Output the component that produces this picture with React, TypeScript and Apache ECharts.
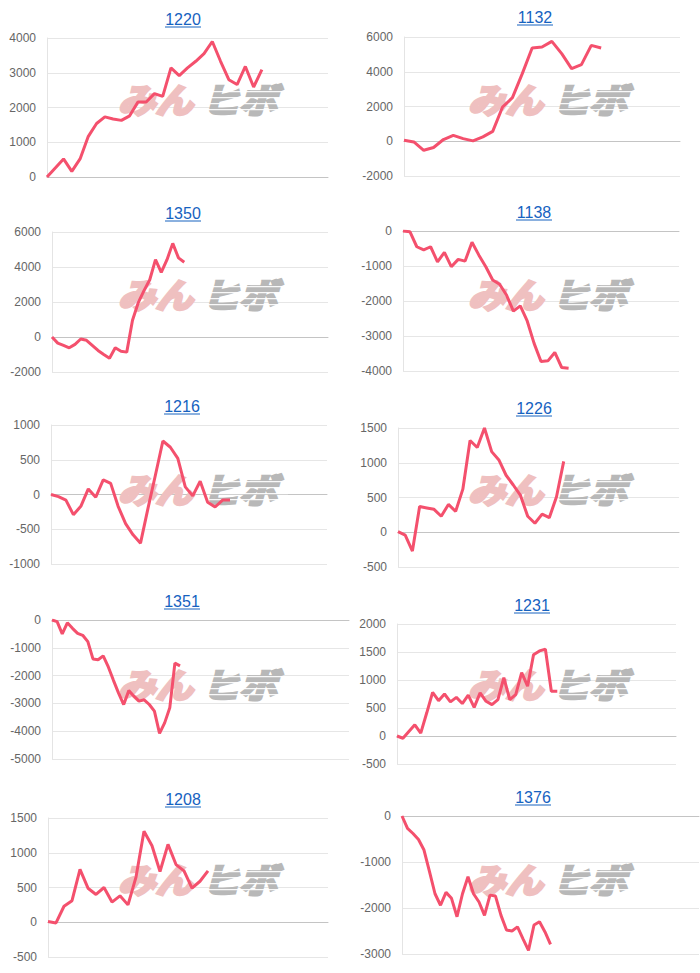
import React, { useEffect, useRef } from "react";
import * as echarts from "echarts";

const titles = ["1220", "1132", "1350", "1138", "1216", "1226", "1351", "1231", "1208", "1376"];

const s1220 = [0, 260, 520, 160, 520, 1170, 1540, 1730, 1670, 1630, 1760, 2160, 2160, 2400, 2320, 3140, 2920, 3140, 3330, 3550, 3900, 3330, 2800, 2660, 3180, 2590, 3090];
const s1132 = [60, -40, -520, -360, 100, 340, 150, 20, 250, 570, 1970, 2510, 3890, 5370, 5420, 5750, 5040, 4180, 4410, 5520, 5370];
const s1350 = [0, -350, -480, -615, -420, -115, -190, -480, -770, -1000, -1210, -615, -810, -865, 960, 1960, 2650, 3270, 4420, 3690, 4420, 5350, 4520, 4270];
const s1138 = [0, -20, -450, -540, -450, -880, -610, -1020, -810, -860, -320, -690, -1020, -1400, -1520, -1830, -2290, -2140, -2570, -3210, -3730, -3710, -3470, -3900, -3920];
const s1216 = [0, -30, -80, -290, -170, 80, -40, 210, 160, -170, -420, -580, -700, -200, 280, 770, 680, 520, 110, -20, 190, -110, -180, -80, -80];
const s1226 = [10, -40, -270, 370, 350, 330, 230, 400, 300, 620, 1320, 1220, 1500, 1160, 1040, 820, 680, 530, 230, 130, 260, 210, 510, 1020];
const s1351 = [0, -60, -500, -100, -300, -480, -550, -780, -1400, -1430, -1290, -1690, -2170, -2630, -3040, -2540, -2740, -2920, -2870, -3040, -3280, -4080, -3700, -3160, -1550, -1650];
const s1231 = [0, -40, 80, 200, 50, 410, 780, 630, 750, 610, 690, 580, 730, 510, 770, 620, 560, 650, 1040, 650, 740, 1130, 890, 1450, 1520, 1550, 800, 800];
const s1208 = [10, -10, 230, 310, 760, 490, 400, 500, 290, 380, 250, 650, 1310, 1100, 730, 1120, 830, 740, 490, 590, 740];
const s1376 = [0, -270, -380, -510, -740, -1210, -1690, -1940, -1660, -1790, -2190, -1690, -1320, -1690, -1870, -2160, -1720, -1740, -2160, -2480, -2500, -2410, -2670, -2920, -2370, -2300, -2520, -2790];

const seriesList = [s1220, s1132, s1350, s1138, s1216, s1226, s1351, s1231, s1208, s1376];

const slotCounts = [35, 29, 49, 41, 38, 40, 59, 48, 36, 55];
const yMins = [0, -2000, -2000, -4000, -1000, -500, -5000, -500, -500, -3000];
const yMaxs = [4000, 6000, 6000, 0, 1000, 1500, 0, 2000, 1500, 0];
const yIntervals = [1000, 2000, 2000, 1000, 500, 500, 1000, 500, 500, 1000];

const watermarkA = "みん";
const watermarkB = "ヒボ";

const FONT = '"Liberation Sans", Arial, Helvetica, sans-serif';
const LINE_COLOR = "#f4506d";
const TITLE_COLOR = "#1662bf";

const layout = [
  { l: 47, r: 328, t: 38, b: 177, tx: 183, ty: 19, cx: 0, cy: 0 },
  { l: 404, r: 680, t: 37, b: 176, tx: 535, ty: 17, cx: 350, cy: 0 },
  { l: 52, r: 328, t: 232, b: 372, tx: 183, ty: 213, cx: 0, cy: 195 },
  { l: 403, r: 679, t: 231, b: 371, tx: 534, ty: 212, cx: 350, cy: 195 },
  { l: 51, r: 327, t: 425, b: 564, tx: 182, ty: 406, cx: 0, cy: 390 },
  { l: 398, r: 679, t: 428, b: 567, tx: 534, ty: 408, cx: 350, cy: 390 },
  { l: 52, r: 349, t: 620, b: 759, tx: 182, ty: 601, cx: 0, cy: 585 },
  { l: 397, r: 676, t: 624, b: 764, tx: 532, ty: 605, cx: 350, cy: 585 },
  { l: 48, r: 328, t: 818, b: 957, tx: 183, ty: 799, cx: 0, cy: 780 },
  { l: 402, r: 699, t: 816, b: 954, tx: 533, ty: 797, cx: 350, cy: 780 },
];

export default function App() {
  const ref = useRef<HTMLDivElement | null>(null);

  useEffect(() => {
    if (!ref.current) return;
    const chart = echarts.init(ref.current, undefined, { renderer: "svg" });

    const grids: any[] = [];
    const xAxes: any[] = [];
    const yAxes: any[] = [];
    const series: any[] = [];
    const graphics: any[] = [];

    layout.forEach((g, i) => {
      grids.push({ left: g.l, top: g.t, width: g.r - g.l, height: g.b - g.t, containLabel: false });
      const cats = Array.from({ length: slotCounts[i] }, (_, k) => String(k + 1));
      xAxes.push({
        type: "category",
        gridIndex: i,
        data: cats,
        boundaryGap: false,
        axisLabel: { show: false },
        axisTick: { show: false },
        axisLine: { show: true, onZero: true, lineStyle: { color: "#c4c4c4", width: 1 } },
        splitLine: { show: false },
      });
      yAxes.push({
        type: "value",
        gridIndex: i,
        min: yMins[i],
        max: yMaxs[i],
        interval: yIntervals[i],
        axisLine: { show: true, lineStyle: { color: "#e4e4e4" } },
        axisTick: { show: false },
        splitLine: { show: true, lineStyle: { color: "#e6e6e6", width: 1 } },
        axisLabel: {
          color: "#666666",
          fontSize: 12,
          margin: 11,
          fontFamily: FONT,
          formatter: (v: number) => String(v),
        },
      });
      series.push({
        type: "line",
        xAxisIndex: i,
        yAxisIndex: i,
        data: seriesList[i],
        symbol: "none",
        showSymbol: false,
        lineStyle: { color: LINE_COLOR, width: 3 },
        z: 5,
      });

      // title
      graphics.push({
        type: "text",
        z: 10,
        style: {
          text: titles[i],
          x: g.tx,
          y: g.ty,
          fill: TITLE_COLOR,
          font: `16px ${FONT}`,
          textAlign: "center",
          textVerticalAlign: "middle",
        },
      });
      graphics.push({
        type: "line",
        z: 10,
        shape: { x1: g.tx - 18, y1: g.ty + 8, x2: g.tx + 18, y2: g.ty + 8 },
        style: { stroke: TITLE_COLOR, lineWidth: 1 },
      });

      // watermark
      const wx = g.cx;
      const wy = g.cy + 98;
      graphics.push({
        type: "text",
        z: 1,
        x: wx + 118,
        y: wy,
        scaleX: 1.1,
        style: {
          text: watermarkA,
          x: 0,
          y: 0,
          fill: "#efc0c0",
          stroke: "#efc0c0",
          lineWidth: 3,
          font: 'italic bold 34px "Noto Sans CJK JP"',
          textAlign: "left",
          textVerticalAlign: "middle",
        },
      });
      graphics.push({
        type: "text",
        z: 1,
        x: wx + 202,
        y: wy,
        scaleX: 1.1,
        style: {
          text: watermarkB,
          x: 0,
          y: 0,
          fill: "#b8b8b8",
          stroke: "#b8b8b8",
          lineWidth: 3,
          font: 'italic bold 34px "Noto Sans CJK JP"',
          textAlign: "left",
          textVerticalAlign: "middle",
        },
      });
      [-7, -1, 5, 11].forEach((dy) => {
        graphics.push({
          type: "rect",
          z: 2,
          shape: { x: wx + 200, y: wy + dy, width: 88, height: 1.2 },
          style: { fill: "#ffffff", opacity: 0.9 },
        });
      });
    });

    chart.setOption({
      animation: false,
      backgroundColor: "#ffffff",
      grid: grids,
      xAxis: xAxes,
      yAxis: yAxes,
      series,
      graphic: graphics,
    });

    return () => {
      chart.dispose();
    };
  }, []);

  return (
    <div
      ref={ref}
      style={{ position: "absolute", left: 0, top: 0, width: 700, height: 973 }}
    />
  );
}
